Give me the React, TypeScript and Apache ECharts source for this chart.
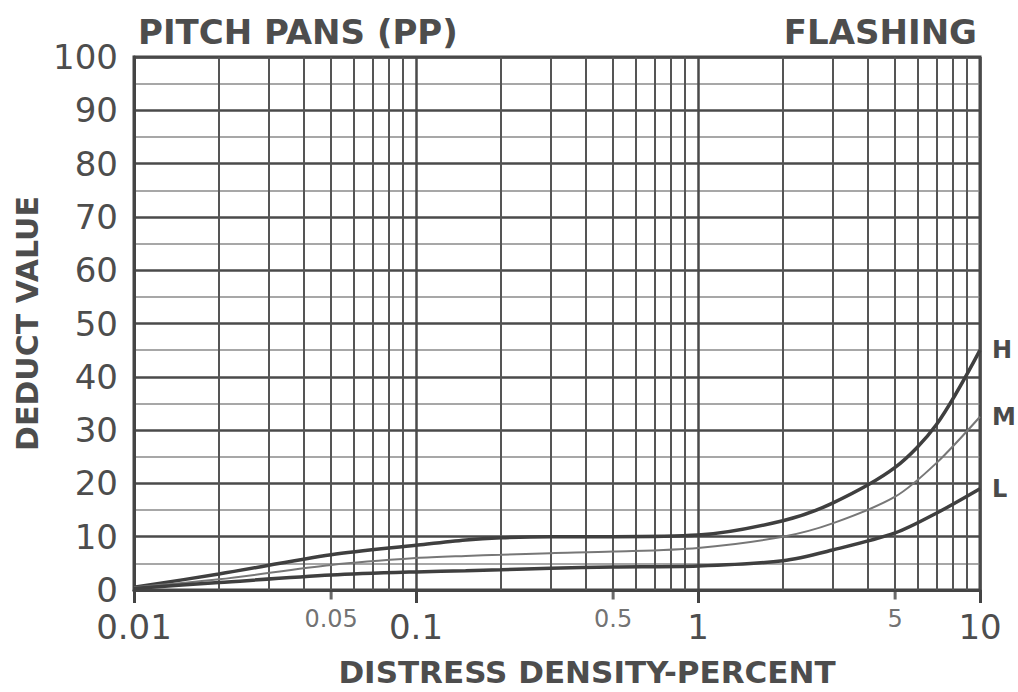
import React, { useEffect, useRef } from "react";
import * as echarts from "echarts";

const densities = [0.01, 0.02, 0.05, 0.1, 0.15, 0.2, 0.3, 0.5, 1, 2, 3, 5, 7, 10];
const highValues = [0.5, 3, 6.6, 8.4, 9.4, 9.8, 10, 10, 10.3, 13, 16.3, 23, 31, 45];
const mediumValues = [0.5, 2, 4.7, 6, 6.4, 6.6, 6.9, 7.2, 7.9, 10, 12.5, 17.5, 23.8, 32.5];
const lowValues = [0.3, 1.4, 2.8, 3.4, 3.6, 3.8, 4.1, 4.3, 4.5, 5.5, 7.5, 10.7, 14.4, 19];
const severityNames = ["H", "M", "L"];
const majorTickLabels = [0.01, 0.1, 1, 10];
const minorTickLabels = [0.05, 0.5, 5];
const decades = [0.01, 0.1, 1];
const multipliers = [2, 3, 4, 5, 6, 7, 8, 9];

const FONT = "DejaVu Sans";
const INK = "#4d4d4d";

export default function App() {
  const ref = useRef<HTMLDivElement>(null);
  useEffect(() => {
    if (!ref.current) return;
    const chart = echarts.init(ref.current, null, { renderer: "svg" });
    const gridXs: number[] = [];
    decades.forEach((d) => multipliers.forEach((m) => gridXs.push(+(d * m).toFixed(4))));
    const mk = (vals: number[]) => densities.map((x, i) => [x, vals[i]]);
    const curve = (name: string, vals: number[], color: string, width: number) => ({
      type: "line",
      name,
      data: mk(vals),
      smooth: 0.3,
      showSymbol: false,
      symbol: "none",
      lineStyle: { color, width },
      z: 5,
      endLabel: {
        show: true,
        formatter: name,
        color: "#4a4a4a",
        fontFamily: FONT,
        fontWeight: "bold",
        fontSize: 24,
        offset: [4, 0],
      },
    });
    chart.setOption({
      animation: false,
      backgroundColor: "#ffffff",
      title: [
        {
          text: "PITCH PANS (PP)",
          left: 133,
          top: 10,
          textStyle: { fontFamily: FONT, fontWeight: "bold", fontSize: 34, color: INK },
        },
        {
          text: "FLASHING",
          right: 36,
          top: 10,
          textStyle: { fontFamily: FONT, fontWeight: "bold", fontSize: 34, color: INK },
        },
      ],
      grid: {
        left: 134,
        right: 38,
        top: 57,
        bottom: 102,
        outerBoundsMode: "none",
        containLabel: false,
        show: true,
        borderColor: "#444",
        borderWidth: 3,
        backgroundColor: "transparent",
      },
      xAxis: {
        type: "log",
        logBase: 10,
        min: 0.01,
        max: 10,
        name: "DISTRESS DENSITY-PERCENT",
        nameLocation: "middle",
        nameGap: 66,
        nameTextStyle: {
          fontFamily: FONT,
          fontWeight: "bold",
          fontSize: 31,
          color: INK,
          padding: [0, 0, 0, 60],
        },
        axisLine: { show: true, lineStyle: { color: "#444", width: 3 } },
        axisTick: { show: true, length: 13, lineStyle: { color: "#444", width: 3 } },
        splitLine: { show: true, lineStyle: { color: "#4a4a4a", width: 2.5 } },
        axisLabel: {
          show: true,
          margin: 20,
          fontFamily: FONT,
          fontSize: 34,
          color: INK,
          formatter: (v: number) => (majorTickLabels.some((t) => Math.abs(t - v) < 1e-9) ? String(v) : ""),
        },
      },
      yAxis: {
        type: "value",
        min: 0,
        max: 100,
        interval: 10,
        name: "DEDUCT VALUE",
        nameLocation: "middle",
        nameGap: 90,
        nameRotate: 90,
        nameTextStyle: {
          fontFamily: FONT,
          fontWeight: "bold",
          fontSize: 30,
          color: INK,
        },
        axisLine: { show: true, lineStyle: { color: "#444", width: 3 } },
        axisTick: { show: false },
        axisLabel: { margin: 16, fontFamily: FONT, fontSize: 34, color: INK },
        splitLine: { show: true, lineStyle: { color: "#4a4a4a", width: 2.5 } },
        minorTick: { show: false, splitNumber: 2 },
        minorSplitLine: { show: true, lineStyle: { color: "#8a8a8a", width: 1.5 } },
      },
      series: [
        {
          type: "scatter",
          name: "minor labels",
          data: minorTickLabels.map((x) => [x, 0]),
          symbol: "rect",
          symbolSize: [3, 9],
          symbolOffset: [0, 5],
          itemStyle: { color: "#444" },
          clip: false,
          silent: true,
          z: 6,
          label: {
            show: true,
            position: "bottom",
            distance: 7,
            formatter: (p: any) => String(p.value[0]),
            fontFamily: FONT,
            fontSize: 24,
            color: INK,
          },
          markLine: {
            silent: true,
            symbol: ["none", "none"],
            label: { show: false },
            lineStyle: { color: "#555", width: 2, type: "solid" },
            data: gridXs.map((x) => ({ xAxis: x })),
          },
        },
        curve(severityNames[0], highValues, "#3f3f3f", 3.5),
        curve(severityNames[1], mediumValues, "#777777", 2),
        curve(severityNames[2], lowValues, "#3f3f3f", 3.5),
      ],
    });
    return () => chart.dispose();
  }, []);
  return <div ref={ref} style={{ position: "absolute", left: 0, top: 0, width: 1018, height: 692 }} />;
}
